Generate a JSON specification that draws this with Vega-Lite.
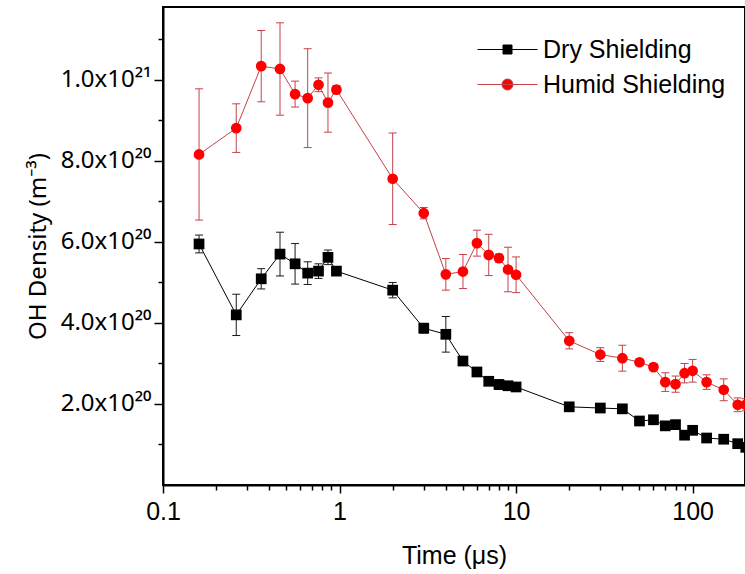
{
  "$schema": "https://vega.github.io/schema/vega-lite/v6.json",
  "width": 582,
  "height": 478,
  "autosize": {"type": "none"},
  "padding": {"left": 163, "top": 7, "right": 0, "bottom": 89},
  "background": "white",
  "config": {
    "font": "Liberation Sans",
    "view": {"stroke": "black", "strokeWidth": 2}
  },
  "data": {
    "values": [
      {"s": "Dry Shielding", "t": 0.16, "v": 5.95e20, "lo": 5.73e20, "hi": 6.17e20},
      {"s": "Dry Shielding", "t": 0.26, "v": 4.20e20, "lo": 3.69e20, "hi": 4.71e20},
      {"s": "Dry Shielding", "t": 0.36, "v": 5.09e20, "lo": 4.84e20, "hi": 5.34e20},
      {"s": "Dry Shielding", "t": 0.46, "v": 5.70e20, "lo": 5.16e20, "hi": 6.24e20},
      {"s": "Dry Shielding", "t": 0.56, "v": 5.46e20, "lo": 4.96e20, "hi": 5.96e20},
      {"s": "Dry Shielding", "t": 0.66, "v": 5.23e20, "lo": 4.95e20, "hi": 5.51e20},
      {"s": "Dry Shielding", "t": 0.76, "v": 5.28e20, "lo": 5.10e20, "hi": 5.46e20},
      {"s": "Dry Shielding", "t": 0.86, "v": 5.62e20, "lo": 5.44e20, "hi": 5.80e20},
      {"s": "Dry Shielding", "t": 0.96, "v": 5.28e20, "lo": 5.20e20, "hi": 5.36e20},
      {"s": "Dry Shielding", "t": 2, "v": 4.81e20, "lo": 4.62e20, "hi": 5.00e20},
      {"s": "Dry Shielding", "t": 3, "v": 3.87e20, "lo": 3.75e20, "hi": 3.99e20},
      {"s": "Dry Shielding", "t": 4, "v": 3.72e20, "lo": 3.28e20, "hi": 4.16e20},
      {"s": "Dry Shielding", "t": 5, "v": 3.06e20, "lo": 3.00e20, "hi": 3.12e20},
      {"s": "Dry Shielding", "t": 6, "v": 2.79e20, "lo": 2.73e20, "hi": 2.85e20},
      {"s": "Dry Shielding", "t": 7, "v": 2.56e20, "lo": 2.48e20, "hi": 2.64e20},
      {"s": "Dry Shielding", "t": 8, "v": 2.48e20, "lo": 2.36e20, "hi": 2.60e20},
      {"s": "Dry Shielding", "t": 9, "v": 2.45e20, "lo": 2.40e20, "hi": 2.50e20},
      {"s": "Dry Shielding", "t": 10, "v": 2.42e20, "lo": 2.37e20, "hi": 2.47e20},
      {"s": "Dry Shielding", "t": 20, "v": 1.93e20, "lo": 1.89e20, "hi": 1.97e20},
      {"s": "Dry Shielding", "t": 30, "v": 1.90e20, "lo": 1.86e20, "hi": 1.94e20},
      {"s": "Dry Shielding", "t": 40, "v": 1.88e20, "lo": 1.83e20, "hi": 1.93e20},
      {"s": "Dry Shielding", "t": 50, "v": 1.58e20, "lo": 1.53e20, "hi": 1.63e20},
      {"s": "Dry Shielding", "t": 60, "v": 1.61e20, "lo": 1.56e20, "hi": 1.66e20},
      {"s": "Dry Shielding", "t": 70, "v": 1.46e20, "lo": 1.41e20, "hi": 1.51e20},
      {"s": "Dry Shielding", "t": 80, "v": 1.49e20, "lo": 1.44e20, "hi": 1.54e20},
      {"s": "Dry Shielding", "t": 90, "v": 1.23e20, "lo": 1.18e20, "hi": 1.28e20},
      {"s": "Dry Shielding", "t": 100, "v": 1.35e20, "lo": 1.30e20, "hi": 1.40e20},
      {"s": "Dry Shielding", "t": 120, "v": 1.16e20, "lo": 1.12e20, "hi": 1.20e20},
      {"s": "Dry Shielding", "t": 150, "v": 1.13e20, "lo": 1.09e20, "hi": 1.17e20},
      {"s": "Dry Shielding", "t": 180, "v": 1.02e20, "lo": 0.98e20, "hi": 1.06e20},
      {"s": "Dry Shielding", "t": 200, "v": 0.93e20, "lo": 0.89e20, "hi": 0.97e20},
      {"s": "Humid Shielding", "t": 0.16, "v": 8.16e20, "lo": 6.54e20, "hi": 9.78e20},
      {"s": "Humid Shielding", "t": 0.26, "v": 8.81e20, "lo": 8.21e20, "hi": 9.41e20},
      {"s": "Humid Shielding", "t": 0.36, "v": 10.34e20, "lo": 9.46e20, "hi": 11.22e20},
      {"s": "Humid Shielding", "t": 0.46, "v": 10.27e20, "lo": 9.13e20, "hi": 11.41e20},
      {"s": "Humid Shielding", "t": 0.56, "v": 9.65e20, "lo": 9.33e20, "hi": 9.97e20},
      {"s": "Humid Shielding", "t": 0.66, "v": 9.55e20, "lo": 8.33e20, "hi": 10.77e20},
      {"s": "Humid Shielding", "t": 0.76, "v": 9.88e20, "lo": 9.71e20, "hi": 10.05e20},
      {"s": "Humid Shielding", "t": 0.86, "v": 9.44e20, "lo": 8.71e20, "hi": 10.17e20},
      {"s": "Humid Shielding", "t": 0.96, "v": 9.76e20, "lo": 9.66e20, "hi": 9.86e20},
      {"s": "Humid Shielding", "t": 2, "v": 7.56e20, "lo": 6.43e20, "hi": 8.69e20},
      {"s": "Humid Shielding", "t": 3, "v": 6.71e20, "lo": 6.57e20, "hi": 6.85e20},
      {"s": "Humid Shielding", "t": 4, "v": 5.20e20, "lo": 4.81e20, "hi": 5.59e20},
      {"s": "Humid Shielding", "t": 5, "v": 5.27e20, "lo": 4.85e20, "hi": 5.69e20},
      {"s": "Humid Shielding", "t": 6, "v": 5.97e20, "lo": 5.65e20, "hi": 6.29e20},
      {"s": "Humid Shielding", "t": 7, "v": 5.68e20, "lo": 5.17e20, "hi": 6.19e20},
      {"s": "Humid Shielding", "t": 8, "v": 5.60e20, "lo": 5.50e20, "hi": 5.70e20},
      {"s": "Humid Shielding", "t": 9, "v": 5.32e20, "lo": 4.77e20, "hi": 5.87e20},
      {"s": "Humid Shielding", "t": 10, "v": 5.19e20, "lo": 4.75e20, "hi": 5.63e20},
      {"s": "Humid Shielding", "t": 20, "v": 3.56e20, "lo": 3.36e20, "hi": 3.76e20},
      {"s": "Humid Shielding", "t": 30, "v": 3.22e20, "lo": 3.05e20, "hi": 3.39e20},
      {"s": "Humid Shielding", "t": 40, "v": 3.13e20, "lo": 2.81e20, "hi": 3.45e20},
      {"s": "Humid Shielding", "t": 50, "v": 3.03e20, "lo": 2.95e20, "hi": 3.11e20},
      {"s": "Humid Shielding", "t": 60, "v": 2.91e20, "lo": 2.83e20, "hi": 2.99e20},
      {"s": "Humid Shielding", "t": 70, "v": 2.54e20, "lo": 2.31e20, "hi": 2.77e20},
      {"s": "Humid Shielding", "t": 80, "v": 2.49e20, "lo": 2.29e20, "hi": 2.69e20},
      {"s": "Humid Shielding", "t": 90, "v": 2.76e20, "lo": 2.52e20, "hi": 3.00e20},
      {"s": "Humid Shielding", "t": 100, "v": 2.82e20, "lo": 2.54e20, "hi": 3.10e20},
      {"s": "Humid Shielding", "t": 120, "v": 2.54e20, "lo": 2.36e20, "hi": 2.72e20},
      {"s": "Humid Shielding", "t": 150, "v": 2.35e20, "lo": 2.08e20, "hi": 2.62e20},
      {"s": "Humid Shielding", "t": 180, "v": 1.98e20, "lo": 1.81e20, "hi": 2.15e20},
      {"s": "Humid Shielding", "t": 200, "v": 1.98e20, "lo": 1.83e20, "hi": 2.13e20}
    ]
  },
  "encoding": {
    "x": {
      "field": "t",
      "type": "quantitative",
      "scale": {"type": "log", "domain": [0.1, 198], "nice": false},
      "axis": {
        "title": "Time (μs)",
        "titleFont": "Liberation Sans",
        "titleFontSize": 25,
        "titleFontWeight": "normal",
        "titleColor": "black",
        "titlePadding": 19,
        "values": [0.1, 0.2, 0.3, 0.4, 0.5, 0.6, 0.7, 0.8, 0.9, 1, 2, 3, 4, 5, 6, 7, 8, 9, 10, 20, 30, 40, 50, 60, 70, 80, 90, 100],
        "labelExpr": "indexof([0.1, 1, 10, 100], datum.value) >= 0 ? toString(datum.value) : ''",
        "labelFont": "Liberation Sans",
        "labelFontSize": 25,
        "labelColor": "black",
        "labelPadding": 6,
        "labelOverlap": false,
        "labelFlush": false,
        "grid": false,
        "domainColor": "black",
        "domainWidth": 2,
        "tickColor": "black",
        "tickWidth": 1.5,
        "tickSize": {"condition": {"test": "indexof([0.1, 1, 10, 100], datum.value) >= 0", "value": 8}, "value": 5}
      }
    }
  },
  "layer": [
    {
      "mark": {"type": "rule", "strokeWidth": 1},
      "encoding": {
        "y": {
          "field": "lo",
          "type": "quantitative",
          "scale": {"domain": [0, 1.18e21], "nice": false, "zero": false},
          "axis": {
            "title": "OH Density (m⁻³)",
            "titleFont": "Noto Sans",
            "titleFontSize": 24,
            "titleFontWeight": "normal",
            "titleColor": "black",
            "titlePadding": 10,
            "values": [1e20, 2e20, 3e20, 4e20, 5e20, 6e20, 7e20, 8e20, 9e20, 10e20, 11e20],
            "labelExpr": "round(datum.value / 1e20) == 10 ? '1.0x10²¹' : (round(datum.value / 1e20) % 2 == 0 ? format(datum.value / 1e20, '.1f') + 'x10²⁰' : '')",
            "labelFont": "Noto Sans",
            "labelFontSize": 24,
            "labelColor": "black",
            "labelPadding": 3,
            "labelOverlap": false,
            "labelFlush": false,
            "grid": false,
            "domainColor": "black",
            "domainWidth": 2,
            "tickColor": "black",
            "tickWidth": 1.5,
            "tickSize": {"condition": {"test": "round(datum.value / 1e20) % 2 == 0", "value": 9}, "value": 5}
          }
        },
        "y2": {"field": "hi"},
        "stroke": {
          "field": "s",
          "type": "nominal",
          "scale": {"domain": ["Humid Shielding", "Dry Shielding"], "range": ["#c4424a", "#1a1a1a"]},
          "legend": null
        }
      }
    },
    {
      "mark": {"type": "rule", "strokeWidth": 1, "xOffset": -4, "x2Offset": 4},
      "encoding": {
        "x2": {"field": "t"},
        "y": {"field": "lo", "type": "quantitative"},
        "stroke": {"field": "s", "type": "nominal", "legend": null}
      }
    },
    {
      "mark": {"type": "rule", "strokeWidth": 1, "xOffset": -4, "x2Offset": 4},
      "encoding": {
        "x2": {"field": "t"},
        "y": {"field": "hi", "type": "quantitative"},
        "stroke": {"field": "s", "type": "nominal", "legend": null}
      }
    },
    {
      "mark": {"type": "line", "strokeWidth": 1},
      "encoding": {
        "y": {"field": "v", "type": "quantitative"},
        "color": {
          "field": "s",
          "type": "nominal",
          "scale": {"domain": ["Dry Shielding", "Humid Shielding"], "range": ["#000000", "#c4424a"]},
          "legend": {
            "title": null,
            "orient": "none",
            "legendX": 332,
            "legendY": 30,
            "padding": 0,
            "labelFont": "Liberation Sans",
            "labelFontSize": 25,
            "labelColor": "black",
            "labelLimit": 400,
            "labelOffset": 23,
            "rowPadding": 9,
            "symbolSize": 400,
            "symbolStrokeWidth": 1,
            "encode": {
              "symbols": {
                "update": {
                  "shape": {"signal": "datum.value == 'Dry Shielding' ? 'M-3,0H3M-0.45,-0.45H0.45V0.45H-0.45Z' : 'M-3,0H3M0.55,0A0.55,0.55 0 1,1 -0.55,0A0.55,0.55 0 1,1 0.55,0Z'"},
                  "fill": {"signal": "datum.value == 'Dry Shielding' ? '#000000' : '#ff0000'"},
                  "stroke": {"signal": "datum.value == 'Dry Shielding' ? '#000000' : '#c4424a'"},
                  "strokeWidth": {"value": 1},
                  "opacity": {"value": 1}
                }
              }
            }
          }
        }
      }
    },
    {
      "mark": {"type": "point", "filled": true, "size": 115, "opacity": 1, "strokeWidth": 0},
      "encoding": {
        "y": {"field": "v", "type": "quantitative"},
        "shape": {
          "field": "s",
          "type": "nominal",
          "scale": {"domain": ["Humid Shielding", "Dry Shielding"], "range": ["circle", "square"]},
          "legend": null
        },
        "fill": {
          "field": "s",
          "type": "nominal",
          "scale": {"domain": ["Humid Shielding", "Dry Shielding"], "range": ["#ff0000", "#000000"]},
          "legend": null
        }
      }
    }
  ]
}
